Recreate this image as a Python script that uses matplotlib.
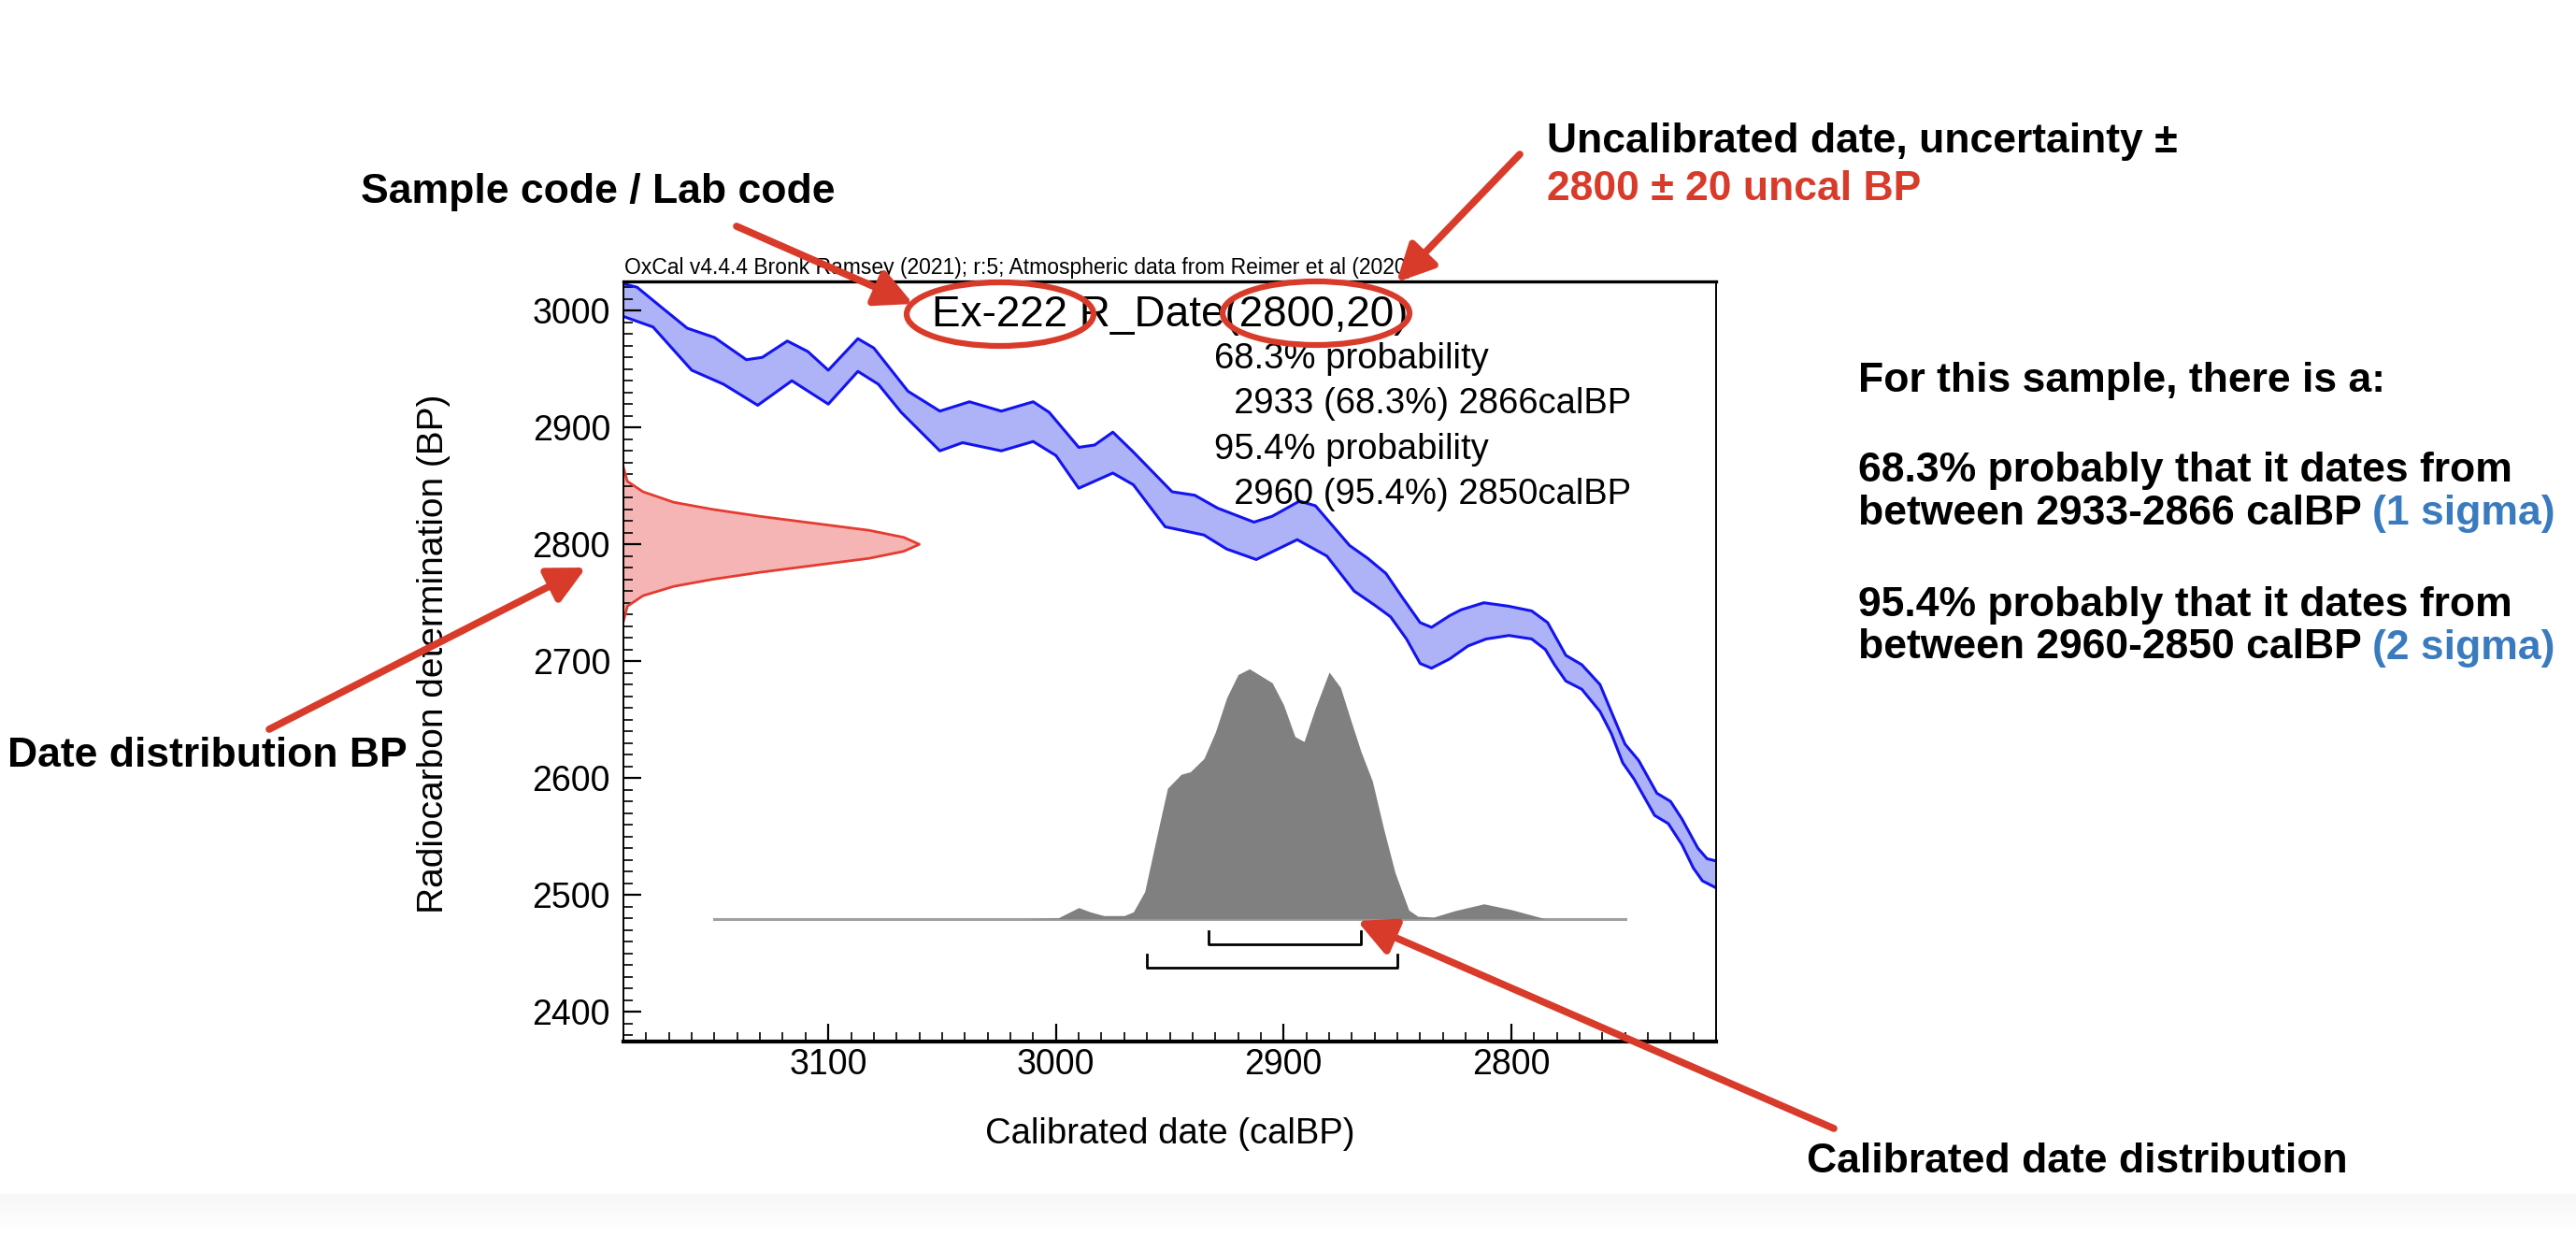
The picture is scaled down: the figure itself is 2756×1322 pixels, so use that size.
import numpy as np
import matplotlib.pyplot as plt
from matplotlib.patches import Ellipse, FancyArrowPatch
from matplotlib.ticker import MultipleLocator

plt.rcParams['font.family'] = ['Liberation Sans', 'DejaVu Sans']

# calibration curve (IntCal20 band), calBP -> BP
curve_x_upper = [3190, 3184, 3174, 3162, 3150, 3136, 3129, 3118, 3109, 3100, 3087, 3080,
                 3065, 3051, 3038, 3024, 3010, 3003, 2990, 2983, 2975, 2966, 2949, 2939,
                 2929, 2913, 2905, 2893, 2886, 2871, 2863, 2855, 2848, 2840, 2835, 2827,
                 2822, 2812, 2801, 2791, 2784, 2780, 2776, 2769, 2761, 2755, 2750, 2744,
                 2736, 2730, 2725, 2718, 2714, 2710]
curve_y_upper = [3023, 3020, 3004, 2985, 2977, 2958, 2960, 2974, 2965, 2949, 2976, 2968,
                 2931, 2914, 2922, 2914, 2922, 2913, 2883, 2885, 2896, 2879, 2845, 2842,
                 2831, 2819, 2824, 2837, 2833, 2799, 2788, 2775, 2755, 2733, 2729, 2739,
                 2744, 2750, 2747, 2743, 2733, 2719, 2705, 2697, 2680, 2652, 2629, 2615,
                 2587, 2580, 2565, 2540, 2531, 2529]
curve_x_lower = [3190, 3177, 3160, 3146, 3131, 3116, 3100, 3087, 3078, 3068, 3051, 3041,
                 3024, 3010, 3000, 2990, 2975, 2966, 2952, 2935, 2925, 2912, 2894, 2881,
                 2869, 2860, 2853, 2846, 2840, 2835, 2827, 2819, 2811, 2801, 2791, 2785,
                 2781, 2776, 2769, 2761, 2756, 2751, 2746, 2737, 2731, 2725, 2720, 2716, 2710]
curve_y_lower = [2995, 2986, 2949, 2937, 2919, 2940, 2920, 2948, 2937, 2913, 2880, 2887,
                 2880, 2888, 2876, 2848, 2861, 2851, 2815, 2808, 2796, 2787, 2804, 2790,
                 2760, 2748, 2738, 2719, 2698, 2694, 2702, 2713, 2719, 2722, 2719, 2710,
                 2697, 2683, 2676, 2657, 2638, 2613, 2599, 2568, 2561, 2543, 2523, 2512, 2506]

# radiocarbon date 2800 +/- 20 BP, relative probability
c14_bp = [2866, 2854, 2845, 2836, 2830, 2824, 2818, 2812, 2806, 2800,
          2794, 2788, 2782, 2776, 2770, 2764, 2756, 2747, 2734]
c14_prob = [0.0, 0.013, 0.066, 0.17, 0.30, 0.46, 0.645, 0.83, 0.947, 1.0,
            0.947, 0.83, 0.645, 0.46, 0.30, 0.17, 0.066, 0.013, 0.0]

# calibrated distribution, relative probability
cal_range = [3150, 2750]
cal_x = [3013, 2999, 2990, 2985, 2979, 2970, 2966, 2961, 2958, 2955, 2951, 2945, 2941,
         2935, 2930, 2925, 2920, 2915, 2905, 2900, 2895, 2891, 2886, 2880, 2875, 2870,
         2866, 2861, 2856, 2851, 2845, 2841, 2834, 2825, 2812, 2800, 2785]
cal_prob = [0.0, 0.004, 0.045, 0.028, 0.013, 0.013, 0.028, 0.109, 0.234, 0.359, 0.522,
            0.578, 0.588, 0.641, 0.746, 0.884, 0.977, 1.0, 0.944, 0.856, 0.729, 0.709,
            0.844, 0.987, 0.925, 0.781, 0.669, 0.551, 0.359, 0.184, 0.035, 0.010, 0.007,
            0.032, 0.060, 0.037, 0.0]

ranges_68 = [(2933, 2866)]
ranges_95 = [(2960, 2850)]

W, H = 2756, 1322
RED = '#d93b2b'


def fx(px):
    return px / W


def fy(py):
    return 1 - py / H


fig = plt.figure(figsize=(W / 100, H / 100), dpi=100)

# faint grey band at the bottom of the screenshot
bg = fig.add_axes([0, 0, 1, 45 / H], zorder=-5)
bg.imshow(np.linspace(1, 0, 50).reshape(-1, 1), cmap='Greys', vmin=0, vmax=16,
          aspect='auto', extent=[0, 1, 0, 1])
bg.axis('off')

ax = fig.add_axes([fx(667), fy(1114), (1836 - 667) / W, (1114 - 301) / H])
ax.set_xlim(3190, 2710)
ax.set_ylim(2374.5, 3025)

# calibration curve
ax.fill(curve_x_upper + curve_x_lower[::-1], curve_y_upper + curve_y_lower[::-1],
        color='#aeb2f6', lw=0)
ax.plot(curve_x_upper, curve_y_upper, color='#1414ee', lw=2.2)
ax.plot(curve_x_lower, curve_y_lower, color='#1414ee', lw=2.2)

# radiocarbon date on the y axis
peak_w = 130
xd = 3190 - np.array(c14_prob) * peak_w
ax.fill_betweenx(c14_bp, 3190, xd, color='#f5b5b5', lw=0)
ax.plot(xd, c14_bp, color='#e53b30', lw=2)

# calibrated distribution
base, height = 2479.5, 214
ax.plot(cal_range, [base, base], color='#a0a0a0', lw=2.2, zorder=1)
ax.fill_between(cal_x, base, base + np.array(cal_prob) * height, color='#808080', lw=0, zorder=2)

# range brackets
for rng, yb in [(ranges_68, 2458), (ranges_95, 2438)]:
    for a, b in rng:
        ax.plot([a, a, b, b], [yb + 11, yb, yb, yb + 11], color='black', lw=2)

# axes style
ax.xaxis.set_major_locator(MultipleLocator(100))
ax.xaxis.set_minor_locator(MultipleLocator(10))
ax.yaxis.set_major_locator(MultipleLocator(100))
ax.yaxis.set_minor_locator(MultipleLocator(10))
ax.tick_params(axis='x', which='major', direction='in', length=14, width=1.6,
               labelsize=27, pad=5)
ax.tick_params(axis='x', which='minor', direction='in', length=7, width=1.2)
ax.tick_params(axis='y', which='major', direction='in', length=14, width=1.6,
               labelsize=27, pad=10)
ax.tick_params(axis='y', which='minor', direction='in', length=7, width=1.2)
for side in ['left', 'right']:
    ax.spines[side].set_linewidth(1.4)
ax.spines['top'].set_linewidth(2.4)
ax.spines['bottom'].set_linewidth(3)

ax.set_xlabel('Calibrated date (calBP)', fontsize=27.5, va='center')
ax.xaxis.set_label_coords(0.5, -0.122)
ax.set_ylabel('Radiocarbon determination (BP)', fontsize=28, va='center', ha='center')
ax.yaxis.set_label_coords(-0.174, 0.51)

ax.text(0.5, 0.9557, 'Ex-222 R_Date(2800,20)', transform=ax.transAxes, fontsize=33,
        ha='center', va='center')
prob_lines = ['68.3% probability', '  2933 (68.3%) 2866calBP',
              '95.4% probability', '  2960 (95.4%) 2850calBP']
for i, s in enumerate(prob_lines):
    ax.text(0.5406, 0.898 - i * 0.0594, s, transform=ax.transAxes, fontsize=27.5,
            ha='left', va='center')

fig.text(fx(668), fy(298), 'OxCal v4.4.4 Bronk Ramsey (2021); r:5; Atmospheric data from Reimer et al (2020)',
         fontsize=16.5, ha='left', va='bottom')

# annotation labels
bold = dict(fontsize=32, fontweight='bold', va='center', ha='left')
fig.text(fx(386), fy(206), 'Sample code / Lab code', color='black', **bold)
fig.text(fx(1655), fy(152), 'Uncalibrated date, uncertainty \u00b1', color='black', **bold)
fig.text(fx(1655), fy(203), '2800 \u00b1 20 uncal BP', color=RED, **bold)
fig.text(fx(8), fy(808), 'Date distribution BP', color='black', **bold)
fig.text(fx(1933), fy(1243), 'Calibrated date distribution', color='black', **bold)

fig.text(fx(1988), fy(408), 'For this sample, there is a:', **bold)
fig.text(fx(1988), fy(504), '68.3% probably that it dates from', **bold)
t1 = fig.text(fx(1988), fy(549), 'between 2933-2866 calBP ', **bold)
fig.text(fx(1988), fy(647), '95.4% probably that it dates from', **bold)
t2 = fig.text(fx(1988), fy(693), 'between 2960-2850 calBP ', **bold)
for t, s in [(t1, '(1 sigma)'), (t2, '(2 sigma)')]:
    ax.annotate(s, xy=(1, 0.5), xycoords=t, ha='left', va='center', fontsize=32,
                fontweight='bold', color='#3a7bbf', annotation_clip=False)

# red circles and arrows
for cx, cy in [(1070, 336), (1408, 335)]:
    fig.add_artist(Ellipse((fx(cx), fy(cy)), 200 / W, 68 / H, transform=fig.transFigure,
                           fill=False, ec=RED, lw=4.5, zorder=10))

arrows = [((788, 242), (977, 325)),
          ((1626, 165), (1494, 302)),
          ((288, 780), (627, 607)),
          ((1962, 1207), (1452, 985))]
for (x0, y0), (x1, y1) in arrows:
    fig.add_artist(FancyArrowPatch((fx(x0), fy(y0)), (fx(x1), fy(y1)),
                                   transform=fig.transFigure,
                                   arrowstyle='-|>,head_length=1.5,head_width=0.75',
                                   mutation_scale=16, lw=5.5, color=RED,
                                   shrinkA=0, shrinkB=0, zorder=11))

fig.savefig('out.png', dpi=100)
